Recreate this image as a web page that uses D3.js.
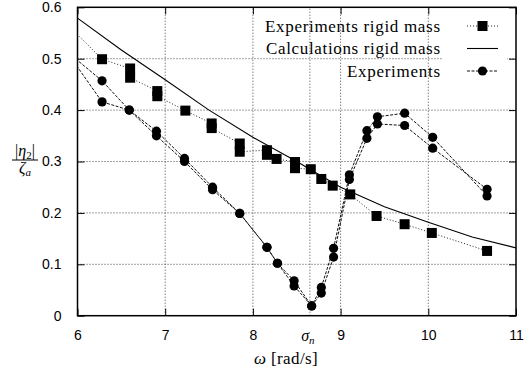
<!DOCTYPE html>
<html><head><meta charset="utf-8">
<script src="https://cdn.jsdelivr.net/npm/d3@7"></script>
<style>
html,body{margin:0;padding:0;background:#fff;}
svg{display:block;}
</style></head>
<body>
<svg id="chart" width="530" height="371"></svg>
<script>
// ---- data ----
const xTicks = [6, 7, 8, 9, 10, 11];
const xTickLabels = ["6", "7", "8", "9", "10", "11"];
const yTicks = [0, 0.1, 0.2, 0.3, 0.4, 0.5, 0.6];
const yTickLabels = ["0", "0.1", "0.2", "0.3", "0.4", "0.5", "0.6"];
const sigmaN = 8.65;

const legendLabels = ["Experiments rigid mass", "Calculations rigid mass", "Experiments"];

// Experiments rigid mass (squares, dotted)
const sqX = [5.9, 6.28, 6.60, 6.60, 6.91, 6.91, 7.23, 7.53, 7.53, 7.85, 7.85, 8.16, 8.16, 8.27, 8.48, 8.48, 8.66, 8.78, 8.91, 9.11, 9.41, 9.73, 10.04, 10.67];
const sqY = [0.564, 0.499, 0.481, 0.463, 0.437, 0.427, 0.399, 0.374, 0.365, 0.335, 0.319, 0.322, 0.313, 0.305, 0.299, 0.287, 0.285, 0.266, 0.253, 0.236, 0.194, 0.178, 0.161, 0.126];

// Calculations rigid mass (solid)
const calcX = [6.0, 6.5, 7.0, 7.5, 8.0, 8.5, 9.0, 9.5, 10.0, 10.5, 11.0];
const calcY = [0.579, 0.517, 0.459, 0.400, 0.347, 0.300, 0.250, 0.212, 0.182, 0.153, 0.132];

// Experiments (circles, dashed) - two runs
const expX = [5.9, 6.28, 6.59, 6.90, 7.22, 7.54, 7.85, 8.16, 8.28, 8.47, 8.67, 8.78, 8.92, 9.10, 9.30, 9.42, 9.73, 10.05, 10.67];
const expAY = [0.511, 0.457, 0.400, 0.359, 0.306, 0.250, 0.199, 0.133, 0.102, 0.068, 0.019, 0.055, 0.131, 0.274, 0.360, 0.387, 0.394, 0.347, 0.233];
const expBY = [0.508, 0.416, 0.400, 0.350, 0.300, 0.245, 0.199, 0.133, 0.102, 0.058, 0.019, 0.044, 0.114, 0.265, 0.345, 0.373, 0.370, 0.326, 0.246];

// ---- layout ----
const svg = d3.select("#chart");
const L = 77.5, R = 516, T = 7.3, B = 315.7;
const x = d3.scaleLinear().domain([6, 11]).range([L, R]);
const y = d3.scaleLinear().domain([0, 0.6]).range([B, T]);

const sans = "'Liberation Sans', Arial, sans-serif";
const serif = "'Liberation Serif', 'Times New Roman', serif";

svg.append("defs").append("clipPath").attr("id", "clip")
  .append("rect").attr("x", L).attr("y", T).attr("width", R - L).attr("height", B - T);

// grid
const grid = svg.append("g").attr("stroke", "#444").attr("stroke-width", 1).attr("stroke-dasharray", "1,2");
[7, 8, sigmaN, 9, 10].forEach(v => {
  grid.append("line").attr("x1", x(v)).attr("x2", x(v)).attr("y1", B).attr("y2", T);
});
[0.1, 0.2, 0.3, 0.4, 0.5].forEach(v => {
  grid.append("line").attr("x1", L).attr("x2", R).attr("y1", y(v)).attr("y2", y(v));
});

// axes via d3 axes (ticks inside)
const xAxis = d3.axisBottom(x).tickValues(xTicks).tickFormat((d, i) => xTickLabels[i]).tickSizeInner(-7).tickSizeOuter(0).tickPadding(14);
const gx = svg.append("g").attr("transform", `translate(0,${B})`).call(xAxis);
gx.select(".domain").remove();
gx.selectAll("text").attr("font-family", sans).attr("font-size", 14).attr("fill", "#000");
gx.selectAll("line").attr("stroke", "#000");

const xAxisTop = d3.axisTop(x).tickValues(xTicks).tickFormat("").tickSizeInner(-7).tickSizeOuter(0);
const gxt = svg.append("g").attr("transform", `translate(0,${T})`).call(xAxisTop);
gxt.select(".domain").remove();
gxt.selectAll("line").attr("stroke", "#000");

const yAxis = d3.axisLeft(y).tickValues(yTicks).tickFormat((d, i) => yTickLabels[i]).tickSizeInner(-7).tickSizeOuter(0).tickPadding(16);
const gy = svg.append("g").attr("transform", `translate(${L},0)`).call(yAxis);
gy.select(".domain").remove();
gy.selectAll("text").attr("font-family", sans).attr("font-size", 14).attr("fill", "#000");
gy.selectAll("line").attr("stroke", "#000");

const yAxisR = d3.axisRight(y).tickValues(yTicks).tickFormat("").tickSizeInner(-7).tickSizeOuter(0);
const gyr = svg.append("g").attr("transform", `translate(${R},0)`).call(yAxisR);
gyr.select(".domain").remove();
gyr.selectAll("line").attr("stroke", "#000");

// sigma_n label
const sg = svg.append("text").attr("x", x(sigmaN) - 2).attr("y", B + 25)
  .attr("text-anchor", "middle").attr("font-family", serif).attr("font-size", 16);
sg.append("tspan").attr("font-style", "italic").text("σ");
sg.append("tspan").attr("font-style", "italic").attr("font-size", 11).attr("dy", 3).text("n");

// x axis title
const xt = svg.append("text").attr("x", 286).attr("y", 364).attr("text-anchor", "middle")
  .attr("font-family", serif).attr("font-size", 17).attr("letter-spacing", 0.4);
xt.append("tspan").attr("font-style", "italic").text("ω");
xt.append("tspan").text(" [rad/s]");

// y axis title (fraction)
const num = svg.append("text").attr("x", 25).attr("y", 156).attr("text-anchor", "middle")
  .attr("font-family", serif).attr("font-size", 16);
num.append("tspan").text("|");
num.append("tspan").attr("font-style", "italic").text("η");
num.append("tspan").attr("font-size", 11).attr("dy", 3).text("2");
num.append("tspan").attr("dy", -3).text("|");
svg.append("line").attr("x1", 12).attr("x2", 38).attr("y1", 160).attr("y2", 160).attr("stroke", "#000").attr("stroke-width", 1);
const den = svg.append("text").attr("x", 25).attr("y", 173).attr("text-anchor", "middle")
  .attr("font-family", serif).attr("font-size", 16);
den.append("tspan").attr("font-style", "italic").text("ζ");
den.append("tspan").attr("font-style", "italic").attr("font-size", 11).attr("dy", 3).text("a");

// data
const plot = svg.append("g").attr("clip-path", "url(#clip)");
const line = d3.line().x(d => x(d[0])).y(d => y(d[1]));

const sqData = sqX.map((v, i) => [v, sqY[i]]);
const calcData = calcX.map((v, i) => [v, calcY[i]]);
const expA = expX.map((v, i) => [v, expAY[i]]);
const expB = expX.map((v, i) => [v, expBY[i]]);

plot.append("path").datum(sqData).attr("d", line).attr("fill", "none").attr("stroke", "#222").attr("stroke-width", 1).attr("stroke-dasharray", "1,2");
plot.append("path").datum(calcData).attr("d", line).attr("fill", "none").attr("stroke", "#000").attr("stroke-width", 1.1);
[expA, expB].forEach(d => {
  plot.append("path").datum(d).attr("d", line).attr("fill", "none").attr("stroke", "#111").attr("stroke-width", 1).attr("stroke-dasharray", "3,1.5");
});
const SQ = 10;
plot.selectAll("rect.sq").data(sqData).enter().append("rect").attr("class", "sq")
  .attr("x", d => x(d[0]) - SQ / 2).attr("y", d => y(d[1]) - SQ / 2).attr("width", SQ).attr("height", SQ).attr("fill", "#000");
plot.selectAll("circle.a").data(expA.concat(expB)).enter().append("circle").attr("class", "a")
  .attr("cx", d => x(d[0])).attr("cy", d => y(d[1])).attr("r", 4.6).attr("fill", "#000");

// legend
const rowY = [26, 48.5, 71];
const textLens = [175, 174, 93];
svg.append("rect").attr("x", 443).attr("y", 14).attr("width", 64).attr("height", 68).attr("fill", "#fff");
const lg = svg.append("g");
legendLabels.forEach((t, i) => {
  lg.append("text").attr("x", 440).attr("y", rowY[i]).attr("dy", "0.35em").attr("text-anchor", "end")
    .attr("font-family", serif).attr("font-size", 17).attr("fill", "#000")
    .attr("textLength", textLens[i]).attr("lengthAdjust", "spacing").text(t);
});
const kx1 = 467, kx2 = 498, kxm = (kx1 + kx2) / 2;
lg.append("line").attr("x1", kx1).attr("x2", kx2).attr("y1", rowY[0]).attr("y2", rowY[0]).attr("stroke", "#222").attr("stroke-dasharray", "1,2");
lg.append("rect").attr("x", kxm - SQ / 2).attr("y", rowY[0] - SQ / 2).attr("width", SQ).attr("height", SQ).attr("fill", "#000");
lg.append("line").attr("x1", kx1).attr("x2", kx2).attr("y1", rowY[1]).attr("y2", rowY[1]).attr("stroke", "#000").attr("stroke-width", 1.1);
lg.append("line").attr("x1", kx1).attr("x2", kx2).attr("y1", rowY[2]).attr("y2", rowY[2]).attr("stroke", "#111").attr("stroke-dasharray", "3,1.5");
lg.append("circle").attr("cx", kxm).attr("cy", rowY[2]).attr("r", 4.6).attr("fill", "#000");

// frame
svg.append("rect").attr("x", L).attr("y", T).attr("width", R - L).attr("height", B - T)
  .attr("fill", "none").attr("stroke", "#000").attr("stroke-width", 1.5);
</script>
</body></html>
